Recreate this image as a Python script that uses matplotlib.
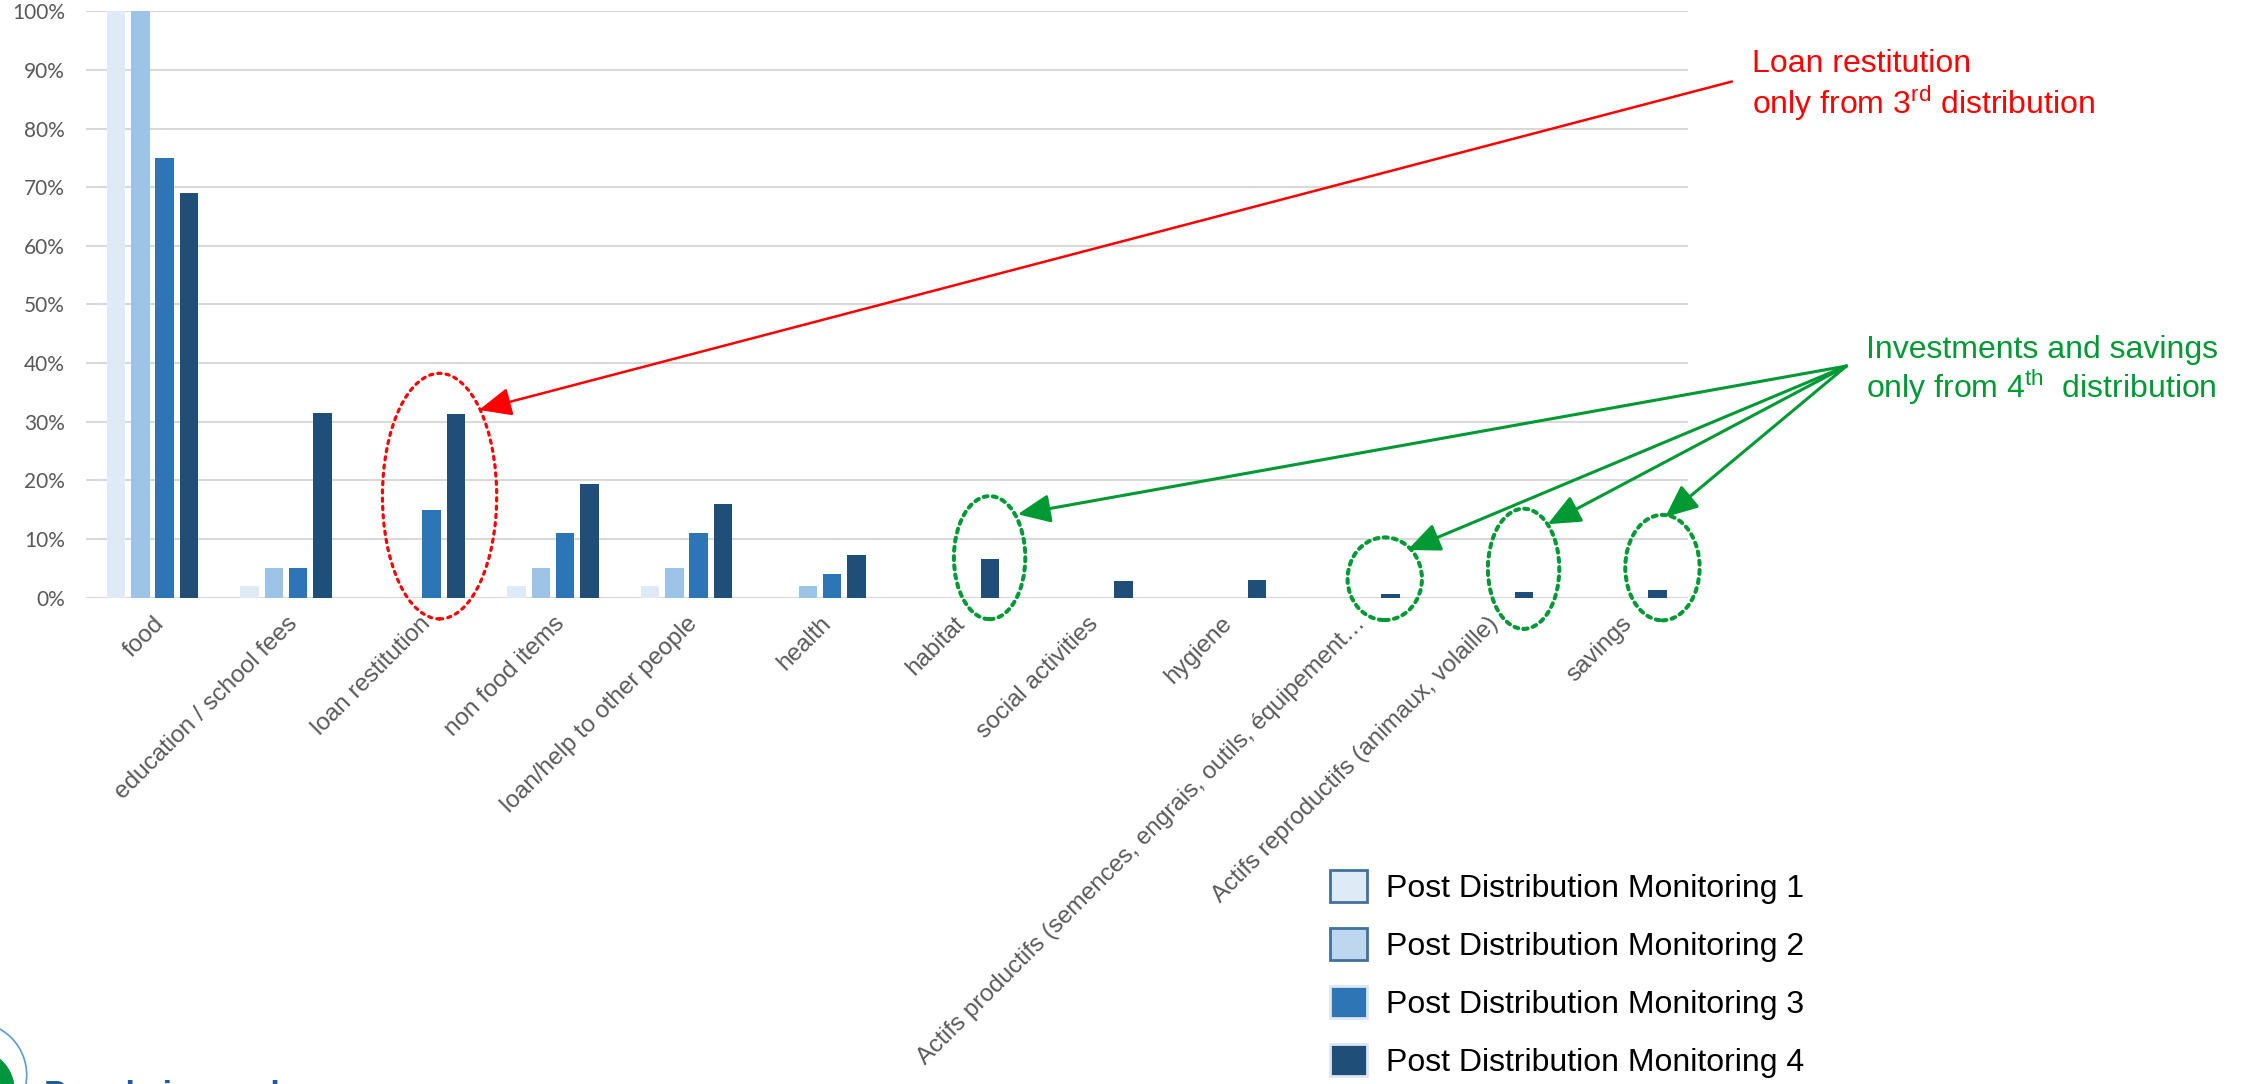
import numpy as np
import matplotlib
matplotlib.use("Agg")
import matplotlib.pyplot as plt
from matplotlib.patches import Ellipse, Patch, Circle
from matplotlib.ticker import PercentFormatter

plt.rcParams['font.family'] = ['Liberation Sans', 'DejaVu Sans']
plt.rcParams['mathtext.fontset'] = 'custom'
plt.rcParams['mathtext.rm'] = 'Liberation Sans'

# ---- data -------------------------------------------------------------
categories = [
    "food",
    "education / school fees",
    "loan restitution",
    "non food items",
    "loan/help to other people",
    "health",
    "habitat",
    "social activities",
    "hygiene",
    "Actifs productifs (semences, engrais, outils, équipement…",
    "Actifs reproductifs (animaux, volaille)",
    "savings",
]
series_names = [
    "Post Distribution Monitoring 1",
    "Post Distribution Monitoring 2",
    "Post Distribution Monitoring 3",
    "Post Distribution Monitoring 4",
]
pdm1 = [1.00, 0.02, 0.00, 0.02, 0.02, 0.00, 0.0, 0.0, 0.0, 0.0, 0.0, 0.0]
pdm2 = [1.00, 0.05, 0.00, 0.05, 0.05, 0.02, 0.0, 0.0, 0.0, 0.0, 0.0, 0.0]
pdm3 = [0.75, 0.05, 0.15, 0.11, 0.11, 0.04, 0.0, 0.0, 0.0, 0.0, 0.0, 0.0]
pdm4 = [0.69, 0.315, 0.313, 0.193, 0.16, 0.072, 0.066, 0.028, 0.030, 0.006, 0.009, 0.012]
series_values = [pdm1, pdm2, pdm3, pdm4]

bar_colors = ["#DEEBF7", "#9DC3E6", "#2E75B6", "#1F4E79"]
legend_colors = ["#DEEBF7", "#BDD7EE", "#2E75B6", "#1F4E79"]
legend_edges = ["#41719C", "#41719C", "#DDE6F0", "#DDE6F0"]

# ---- figure -----------------------------------------------------------
W, H, DPI = 2241, 1084, 100
fig = plt.figure(figsize=(W / DPI, H / DPI), dpi=DPI)
ax = fig.add_axes([85.8 / W, (H - 597.5) / H, 1602 / W, 586.1 / H])

x = np.arange(len(categories))
bar_w = 0.139
pitch = 0.182
offsets = (np.arange(4) - 1.5) * pitch

for k in range(4):
    ax.bar(x + offsets[k], series_values[k], width=bar_w,
           color=bar_colors[k], zorder=3, label=series_names[k])

ax.set_xlim(-0.5, len(categories) - 0.5)
ax.set_ylim(0, 1.0)
ax.set_yticks(np.arange(0, 1.01, 0.1))
ax.yaxis.set_major_formatter(PercentFormatter(1.0, decimals=0))
ax.grid(axis='y', color='#D9D9D9', linewidth=1.5, zorder=0)
ax.set_axisbelow(True)
for s in ax.spines.values():
    s.set_visible(False)
ax.tick_params(axis='both', length=0, colors='#595959')
ax.tick_params(axis='y', labelsize=15, pad=15)
for t in ax.get_yticklabels():
    t.set_family(['Lato', 'DejaVu Sans'])

ax.set_xticks(x)
ax.set_xticklabels(categories, rotation=45, ha='right', va='top',
                   rotation_mode='anchor', fontsize=17.5, color='#595959')
ax.tick_params(axis='x', pad=11)

# ---- legend -------------------------------------------------------------
handles = [Patch(facecolor=legend_colors[k], edgecolor=legend_edges[k],
                 linewidth=2) for k in range(4)]
fig.legend(handles, series_names, loc='upper left',
           bbox_to_anchor=(1330 / W, 1 - 870 / H), frameon=False,
           fontsize=23, handlelength=1.15, handleheight=1.15,
           handletextpad=0.6, labelspacing=0.76, borderpad=0,
           borderaxespad=0)

# ---- callouts -----------------------------------------------------------
red = '#FF0000'
green = '#009933'

fig.text(1752 / W, 1 - 64 / H, "Loan restitution", color=red,
         fontsize=23, va='center', ha='left')
fig.text(1752 / W, 1 - 103 / H, r"only from 3$^{\mathrm{rd}}$ distribution",
         color=red, fontsize=23, va='center', ha='left')

fig.text(1866 / W, 1 - 350 / H, "Investments and savings", color=green,
         fontsize=23, va='center', ha='left')
fig.text(1866 / W, 1 - 387 / H, r"only from 4$^{\mathrm{th}}$  distribution",
         color=green, fontsize=23, va='center', ha='left')

ax.add_patch(Ellipse((2.15, 0.173), 0.856, 0.419, fill=False,
                     edgecolor=red, linewidth=2.3, linestyle=(0, (1, 1.6)),
                     capstyle='round', clip_on=False, zorder=5))
ax.annotate("", xy=(2.445, 0.32), xycoords='data',
            xytext=(1732, H - 81.5), textcoords='figure pixels',
            arrowprops=dict(arrowstyle='-|>,head_length=0.8,head_width=0.35',
                            color=red, lw=1.8, shrinkA=0, shrinkB=0,
                            mutation_scale=25))

green_ellipses = [
    ((6.27, 0.068), 0.535, 0.21),
    ((9.23, 0.032), 0.557, 0.141),
    ((10.27, 0.049), 0.535, 0.205),
    ((11.31, 0.051), 0.557, 0.18),
]
green_tips = [(6.48, 0.142), (9.40, 0.081), (10.45, 0.125), (11.33, 0.137)]
for (c, w, h) in green_ellipses:
    ax.add_patch(Ellipse(c, w, h, fill=False, edgecolor=green,
                         linewidth=2.9, linestyle=(0, (1, 1.3)),
                         capstyle='round', clip_on=False, zorder=5))
for tip in green_tips:
    ax.annotate("", xy=tip, xycoords='data',
                xytext=(1846.5, H - 366), textcoords='figure pixels',
                arrowprops=dict(arrowstyle='-|>,head_length=0.8,head_width=0.35',
                                color=green, lw=2.2, shrinkA=0, shrinkB=0,
                                mutation_scale=25))

# ---- logo in the bottom-left corner ---------------------------------------
logo = fig.add_axes([0, 0, 120 / W, 120 / H])
logo.set_xlim(0, 120)
logo.set_ylim(0, 120)
logo.axis('off')
logo.add_patch(Circle((-26, -6), 40, color='#00963F', zorder=1))
logo.add_patch(Circle((-26, 9), 52.7, fill=False, edgecolor='#5B9BD5',
                      linewidth=1.2, zorder=2))
fig.text(44 / W, 4 / H, "People in need", color='#1F5C99', fontsize=24,
         fontweight='bold', va='top', ha='left')

fig.savefig("out.png", dpi=DPI)
